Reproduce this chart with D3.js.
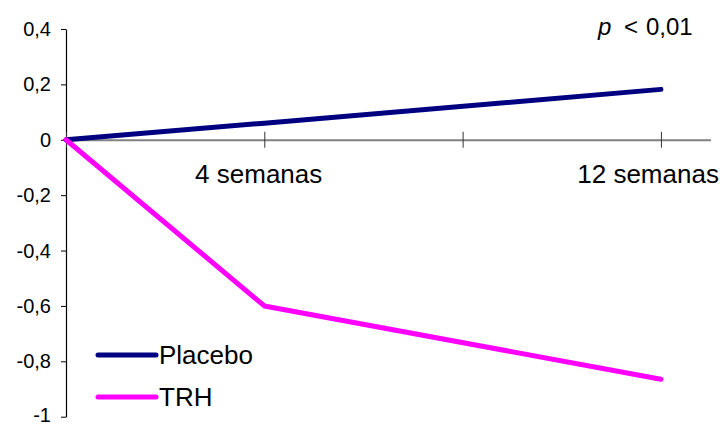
<!DOCTYPE html>
<html><head><meta charset="utf-8">
<script src="https://cdn.jsdelivr.net/npm/d3@7"></script>
<style>body{margin:0;background:#fff;} text{font-family:"Liberation Sans",Arial,sans-serif;fill:#000;}</style>
</head><body>
<svg id="c" width="727" height="426"></svg>
<script>
const weeks = [0, 4, 12];
const placebo = [0, 0.06, 0.182];
const trh = [0, -0.6, -0.865];
const seriesNames = ["Placebo", "TRH"];
const seriesColors = ["#000080", "#FF00FF"];
const yTicks = [0.4, 0.2, 0, -0.2, -0.4, -0.6, -0.8, -1];
const xTicks = [0, 4, 8, 12];
const xLabels = [{w: 4, t: "4 semanas"}, {w: 12, t: "12 semanas"}];

const svg = d3.select("#c");
const x = d3.scaleLinear().domain([0, 13]).range([66, 710.5]);
const y = d3.scaleLinear().domain([-1, 0.4]).range([416.7, 29]);
const fmt = d => d === 0 ? "0" : String(d).replace(".", ",");

// Y axis
const yAxis = d3.axisLeft(y).tickValues(yTicks).tickSize(5).tickSizeOuter(0).tickPadding(10).tickFormat(fmt);
const gy = svg.append("g").attr("transform", `translate(${x(0)},0)`).call(yAxis);
gy.select(".domain").attr("stroke", "#000").attr("stroke-width", 1.2);
gy.selectAll(".tick line").attr("stroke", "#000");
gy.selectAll(".tick text").style("font-size", "20px").attr("dy", d => d === -1 ? "0.22em" : "0.33em");

// X axis at y=0
const xAxis = d3.axisBottom(x).tickValues(xTicks).tickSize(8).tickSizeOuter(0).tickFormat("");
const gx = svg.append("g").attr("transform", `translate(0,${y(0)})`).call(xAxis);
gx.select(".domain").attr("stroke", "#808080").attr("stroke-width", 2);
gx.selectAll(".tick line").attr("y1", -8).attr("y2", 8).attr("stroke", "#333").attr("stroke-width", 1);

// X labels
svg.selectAll(".xl").data(xLabels).enter().append("text")
  .attr("x", d => x(d.w) + 58).attr("y", 183)
  .attr("text-anchor", "end").style("font-size", "26px").text(d => d.t);

// Lines
const line = d3.line().x((d, i) => x(weeks[i])).y(d => y(d));
[placebo, trh].forEach((s, k) => {
  svg.append("path").datum(s).attr("d", line).attr("fill", "none")
    .attr("stroke", seriesColors[k]).attr("stroke-width", 5)
    .attr("stroke-linecap", "round").attr("stroke-linejoin", "round");
});

// Legend
const lg = svg.append("g");
seriesNames.forEach((n, k) => {
  const yy = 355 + k * 42;
  lg.append("line").attr("x1", 98).attr("x2", 156).attr("y1", yy).attr("y2", yy)
    .attr("stroke", seriesColors[k]).attr("stroke-width", 5).attr("stroke-linecap", "round");
  lg.append("text").attr("x", 159).attr("y", yy + 9).style("font-size", "26px").text(n);
});

// p-value
const pt = svg.append("text").attr("x", 598).attr("y", 35).style("font-size", "24px");
pt.append("tspan").style("font-style", "italic").text("p");
pt.append("tspan").attr("x", 624).text("<");
pt.append("tspan").attr("x", 646).text("0,01");
</script>
</body></html>
